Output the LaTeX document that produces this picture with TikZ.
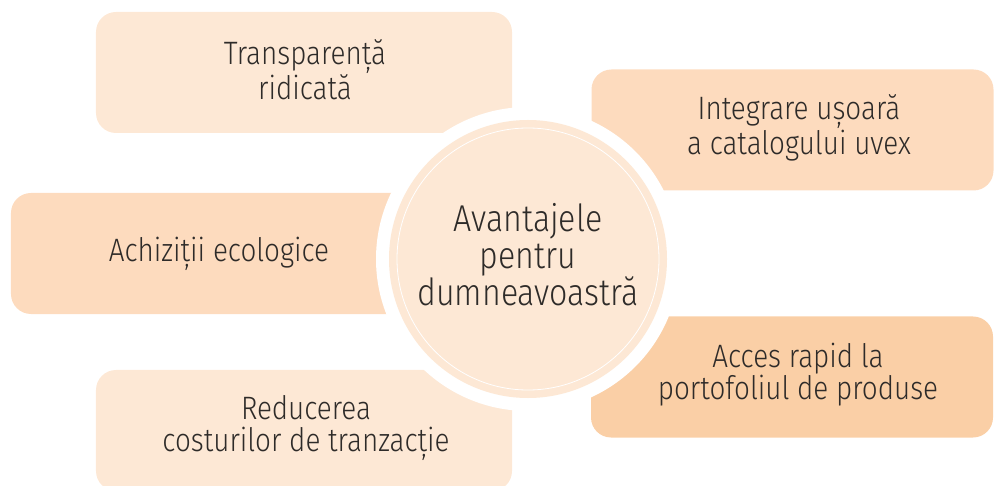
\documentclass[tikz,border=0pt]{standalone}
\usepackage{fontspec}
\setmainfont{Fira Sans}[UprightFont=* Light, FakeStretch=0.86]
\definecolor{peachA}{HTML}{FDE8D5}
\definecolor{peachB}{HTML}{FDDBBE}
\definecolor{peachC}{HTML}{FACFA6}
\definecolor{txt}{HTML}{2E2B29}
\tikzset{
  box/.style={rounded corners=20bp, minimum width=416bp, minimum height=121bp, inner sep=0pt, draw=none},
  label/.style={align=center, text=txt, font=\fontsize{32.5}{32}\selectfont, inner sep=0pt},
  hub/.style={align=center, text=txt, font=\fontsize{37.5}{37}\selectfont, inner sep=0pt}
}
\begin{document}
\begin{tikzpicture}[x=1bp, y=-1bp]
\useasboundingbox (0,0) rectangle (995,486);
% boxes
\node[box, fill=peachA] (tl) at (304,72.5) {};
\node[box, minimum width=402bp, fill=peachB] (tr) at (792.5,130) {};
\node[box, fill=peachB] (ml) at (219,253.5) {};
\node[box, minimum width=402bp, fill=peachC] (br) at (792,377) {};
\node[box, fill=peachA] (bl) at (304,430.5) {};
% hub
\node[circle, fill=white, minimum size=304bp, inner sep=0pt] (ring) at (528,259) {};
\node[circle, fill=peachA, minimum size=278bp, inner sep=0pt] (hubdisk) at (528,259) {};
\node[circle, draw=white, line width=0.8bp, minimum size=262bp, inner sep=0pt] (hubline) at (528,259) {};
\node[hub] (hubtext) at (528,255) {Avantajele\\pentru\\dumneavoastră};
% texts
\node[label] (tlt) at (305,70) {Transparență\\ridicată};
\node[label] (trt) at (799,128) {Integrare ușoară\\a catalogului uvex};
\node[label] (mlt) at (219,254) {Achiziții ecologice};
\node[label] (brt) at (798,375) {Acces rapid la\\portofoliul de produse};
\node[label] (blt) at (306,428) {Reducerea\\costurilor de tranzacție};
\end{tikzpicture}
\end{document}
